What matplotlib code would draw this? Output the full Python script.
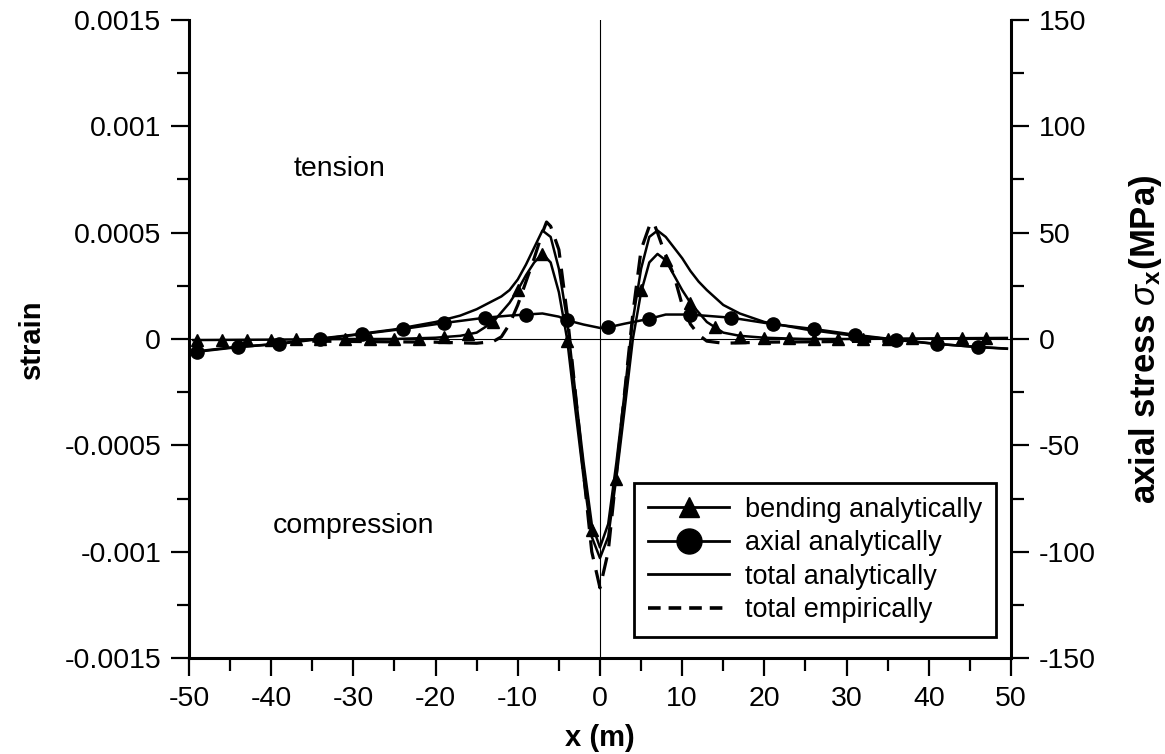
import matplotlib
matplotlib.use("Agg")
import matplotlib.pyplot as plt
from matplotlib.lines import Line2D
from matplotlib.ticker import MultipleLocator

plt.rcParams["font.family"] = ["Liberation Sans", "DejaVu Sans"]
plt.rcParams["mathtext.fontset"] = "custom"
plt.rcParams["mathtext.rm"] = "Liberation Sans"
plt.rcParams["mathtext.it"] = "Liberation Sans:italic"
plt.rcParams["mathtext.bf"] = "Liberation Sans:bold"

# ---- bending strain (analytical) ----
bend_x = [-49.5, -40, -30, -25, -20, -17, -15, -13, -11, -10, -9, -8, -7, -6, -5, -4,
          -3, -2, -1, 0, 1, 2, 3, 4, 5, 6, 7, 8, 9, 10, 11, 13, 15, 17, 20, 25, 30,
          40, 49.5]
bend_y = [-0.000005, -0.000003, 0.0, 0.0, 0.000006, 0.000015, 0.00003, 0.00008,
          0.00017, 0.00023, 0.0003, 0.00036, 0.0004, 0.00036, 0.00022, 0.0,
          -0.00033, -0.00065, -0.00093, -0.00103, -0.00093, -0.00065, -0.00033,
          0.0, 0.00022, 0.00036, 0.0004, 0.00037, 0.0003, 0.00023, 0.00017,
          0.00008, 0.00003, 0.000015, 0.000006, 0.0, 0.0, 0.000003, 0.000005]
bend_mark_x = [-49, -46, -43, -40, -37, -34, -31, -28, -25, -22, -19, -16, -13, -10,
               -7, -4, -1, 2, 5, 8, 11, 14, 17, 20, 23, 26, 29, 32, 35, 38, 41, 44, 47]
bend_mark_y = [-0.000005, -0.000004, -0.000003, -0.000003, -0.000002, -0.000001, 0.0,
               0.0, 0.0, 0.000002, 0.00001, 0.000023, 0.00008, 0.00023, 0.0004,
               -0.00001, -0.0009, -0.00066, 0.00023, 0.00037, 0.00017, 0.000056,
               0.00001, 0.000005, 0.000003, 0.0, 0.0, 0.0, 0.000002, 0.000003,
               0.000004, 0.000004, 0.000005]

# ---- axial strain (analytical) ----
axial_x = [-49.5, -49, -44, -39, -34, -29, -24, -19, -14, -11, -9, -7, -5, -4, -2, 0,
           1, 3, 6, 8, 11, 14, 16, 21, 26, 31, 36, 41, 46, 49.5]
axial_y = [-0.000062, -0.00006, -0.000038, -0.000023, 0.0, 0.000023, 0.000047,
           0.000075, 0.0001, 0.00011, 0.000115, 0.00012, 0.000105, 0.000088,
           0.000068, 0.000052, 0.000055, 0.000072, 0.000095, 0.000115, 0.000115,
           0.000106, 0.0001, 0.00007, 0.000047, 0.00002, -0.000003, -0.000023,
           -0.000038, -0.000046]
axial_mark_x = [-49, -44, -39, -34, -29, -24, -19, -14, -9, -4, 1, 6, 11, 16, 21, 26,
                31, 36, 41, 46]
axial_mark_y = [-0.00006, -0.000038, -0.000023, 0.0, 0.000023, 0.000047, 0.000075,
                0.0001, 0.000115, 0.000088, 0.000055, 0.000095, 0.000115, 0.0001,
                0.00007, 0.000047, 0.00002, -0.000003, -0.000023, -0.000038]

# ---- total strain (analytical) ----
total_x = [-49.5, -45, -40, -35, -30, -25, -20, -17, -15, -13, -12, -11, -10, -9, -8,
           -7, -6, -5, -4, -3, -2, -1, 0, 1, 2, 3, 4, 5, 6, 7, 8, 9, 10, 11, 12, 13,
           15, 17, 20, 25, 30, 35, 40, 45, 49.5]
total_y = [-0.00006, -0.00004, -0.000025, -0.000002, 0.00002, 0.000045, 0.00008,
           0.00011, 0.00014, 0.00018, 0.0002, 0.00023, 0.00028, 0.00035, 0.00043,
           0.00051, 0.00048, 0.00033, 0.00009, -0.00025, -0.00058, -0.00087,
           -0.00098, -0.00087, -0.00058, -0.00025, 0.00009, 0.00033, 0.00048,
           0.00051, 0.00048, 0.00043, 0.00038, 0.00032, 0.00027, 0.00023, 0.00016,
           0.00012, 0.00008, 0.000045, 0.00002, 0.0, -0.00002, -0.000035, -0.000045]

# ---- total strain (empirical) ----
emp_x = [-35, -20, -15, -13, -12, -11, -10, -9, -8, -7, -6.5, -6, -5, -4, -3, -2, -1,
         0, 1, 2, 3, 4, 5, 6, 6.5, 7, 8, 9, 10, 11, 12, 13, 15, 20, 35]
emp_y = [-0.00001, -0.000015, -0.00002, -0.000012, 0.00001, 0.00007, 0.00016,
         0.00027, 0.00038, 0.0005, 0.00055, 0.00053, 0.00042, 0.00012, -0.00025,
         -0.00063, -0.001, -0.00117, -0.001, -0.00063, -0.00025, 0.00012, 0.00042,
         0.00053, 0.00055, 0.0005, 0.00039, 0.0003, 0.00016, 0.00007, 0.00002,
         -0.00001, -0.00002, -0.000015, -0.00001]

strain_ticks = [-0.0015, -0.001, -0.0005, 0, 0.0005, 0.001, 0.0015]
strain_labels = ["-0.0015", "-0.001", "-0.0005", "0", "0.0005", "0.001", "0.0015"]
stress_ticks = [-150, -100, -50, 0, 50, 100, 150]
x_ticks = [-50, -40, -30, -20, -10, 0, 10, 20, 30, 40, 50]

series_names = ["bending analytically", "axial analytically",
                "total analytically", "total empirically"]

fig = plt.figure(figsize=(11.65, 7.54), dpi=100)
ax = fig.add_axes([0.1622, 0.1273, 0.7056, 0.8462])

ax.axvline(0, color="black", lw=0.8, zorder=1)
ax.axhline(0, color="black", lw=0.8, zorder=1)

dash = (0, (6, 3.5))
ax.plot(emp_x, emp_y, color="black", lw=2.3, ls=dash, zorder=3)
ax.plot(total_x, total_y, color="black", lw=1.8, zorder=3)
ax.plot(bend_x, bend_y, color="black", lw=1.8, zorder=3)
ax.plot(axial_x, axial_y, color="black", lw=1.8, zorder=3)
ax.plot(bend_mark_x, bend_mark_y, ls="none", marker="^", ms=9, color="black", zorder=4)
ax.plot(axial_mark_x, axial_mark_y, ls="none", marker="o", ms=9.5, color="black", zorder=4)

ax.set_xlim(-50, 50)
ax.set_ylim(-0.0015, 0.0015)
ax.set_xticks(x_ticks)
ax.set_xticklabels([str(v) for v in x_ticks])
ax.xaxis.set_minor_locator(MultipleLocator(5))
ax.set_yticks(strain_ticks)
ax.set_yticklabels(strain_labels)
ax.yaxis.set_minor_locator(MultipleLocator(0.00025))

ax.tick_params(which="major", direction="out", length=13, width=1.6,
               labelsize=20.5, pad=7, color="black")
ax.tick_params(which="minor", direction="out", length=9, width=1.6)

ax.spines["top"].set_visible(False)
ax.spines["right"].set_visible(False)
for s in ("left", "bottom"):
    ax.spines[s].set_linewidth(2.2)

ax2 = ax.twinx()
ax2.set_ylim(-150, 150)
ax2.set_yticks(stress_ticks)
ax2.set_yticklabels([str(v) for v in stress_ticks])
ax2.yaxis.set_minor_locator(MultipleLocator(25))
ax2.tick_params(which="major", direction="out", length=13, width=1.6,
                labelsize=20.5, pad=7)
ax2.tick_params(which="minor", direction="out", length=9, width=1.6)
ax2.spines["top"].set_visible(False)
ax2.spines["left"].set_visible(False)
ax2.spines["bottom"].set_visible(False)
ax2.spines["right"].set_linewidth(2.2)

ax.set_ylabel("strain", fontsize=21, fontweight="bold")
ax.yaxis.set_label_coords(-0.174, 0.5)
ax.set_xlabel("x (m)", fontsize=21, fontweight="bold")
ax.xaxis.set_label_coords(0.5, -0.103)
ax2.set_ylabel(r"axial stress $\sigma_{\mathbf{x}}$(MPa)", fontsize=25,
               fontweight="bold")
ax2.yaxis.set_label_coords(1.141, 0.5)

ax.text(-31.7, 0.0008, "tension", fontsize=20.5, ha="center", va="center")
ax.text(-30.0, -0.00088, "compression", fontsize=20.5, ha="center", va="center")

handles = [
    Line2D([], [], color="black", lw=2, marker="^", ms=15),
    Line2D([], [], color="black", lw=2, marker="o", ms=18),
    Line2D([], [], color="black", lw=2),
    Line2D([], [], color="black", lw=2.6, ls=(0, (3.5, 2.2))),
]
leg = ax2.legend(handles, series_names, loc="lower right",
                 bbox_to_anchor=(0.982, 0.033), frameon=True, fancybox=False,
                 edgecolor="black", framealpha=1, fontsize=19.5, handlelength=3.0,
                 borderaxespad=0, labelspacing=0.28, handletextpad=0.6,
                 borderpad=0.5)
leg.get_frame().set_linewidth(2)

fig.savefig("out.png", dpi=100)
